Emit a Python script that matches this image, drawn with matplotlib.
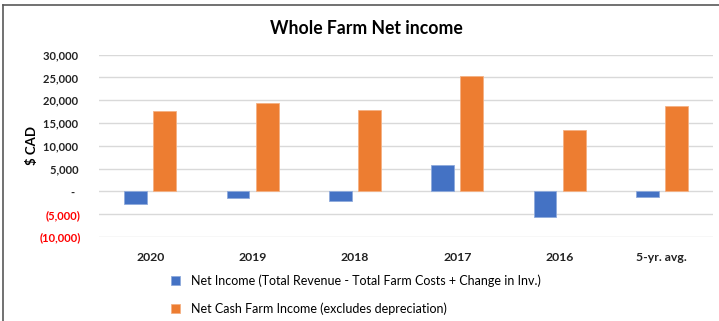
import numpy as np
import matplotlib
matplotlib.use("Agg")
import matplotlib.pyplot as plt
from matplotlib.lines import Line2D

# Chart data
categories = ["2020", "2019", "2018", "2017", "2016", "5-yr. avg."]
net_income = [-2800, -1500, -2200, 5700, -5600, -1300]
net_cash = [17600, 19400, 17850, 25200, 13500, 18700]
y_ticks = [-10000, -5000, 0, 5000, 10000, 15000, 20000, 25000, 30000]

label_income = "Net Income (Total Revenue - Total Farm Costs + Change in Inv.)"
label_cash = "Net Cash Farm Income (excludes depreciation)"

blue = "#4472C4"
orange = "#ED7D31"

plt.rcParams['font.family'] = ['Lato', 'DejaVu Sans']

fig = plt.figure(figsize=(7.19, 3.21), dpi=100)
ax = fig.add_axes([0.1377, 0.2617, 0.854, 0.5683])

x = np.arange(len(categories))
width = 0.222
offset = 0.143
ax.bar(x - offset, net_income, width, color=blue, edgecolor="#8FAADC", linewidth=0.6,
       label=label_income, zorder=3)
ax.bar(x + offset, net_cash, width, color=orange, edgecolor="#F4B183", linewidth=0.6,
       label=label_cash, zorder=3)

ax.set_xlim(-0.5, len(categories) - 0.5)
ax.set_ylim(-10000, 30000)
ax.set_yticks(y_ticks)


def fmt(v):
    if v < 0:
        return "({:,})".format(-v)
    if v == 0:
        return "-  "
    return "{:,} ".format(v)


ax.set_yticklabels([fmt(v) for v in y_ticks], fontsize=8, fontweight="bold")
for lbl, v in zip(ax.get_yticklabels(), y_ticks):
    lbl.set_color("#FF0000" if v < 0 else "#222222")

ax.set_xticks(x)
ax.set_xticklabels(categories, fontsize=8.8, fontweight="bold", color="#222222")
ax.tick_params(axis="both", length=0)
ax.tick_params(axis="y", pad=13)
ax.tick_params(axis="x", pad=11)

ax.grid(axis="y", color="#D9D9D9", linewidth=1.0, zorder=0)
for s in ax.spines.values():
    s.set_visible(False)

ax.set_ylabel("$ CAD", fontsize=9.5, fontweight="bold", labelpad=4)
ax.yaxis.set_label_coords(-0.1, 0.5)

fig.suptitle("Whole Farm Net income", fontsize=12.7, fontweight="bold", x=0.509, y=0.91,
             va="center")

ax.legend(loc="upper left", bbox_to_anchor=(0.238, 0.145), bbox_transform=fig.transFigure,
          ncol=1, frameon=False, fontsize=9, handlelength=0.7, handleheight=0.7,
          handletextpad=0.9, labelspacing=1.2, borderpad=0, borderaxespad=0)

# chart frame (top and left edges visible in the crop)
fig.add_artist(Line2D([3 / 719, 1], [1 - 5 / 321, 1 - 5 / 321], color="#595959", linewidth=1.2,
                      transform=fig.transFigure))
fig.add_artist(Line2D([3 / 719, 3 / 719], [0, 1 - 5 / 321], color="#595959", linewidth=1.2,
                      transform=fig.transFigure))

fig.savefig("out.png", dpi=100)
